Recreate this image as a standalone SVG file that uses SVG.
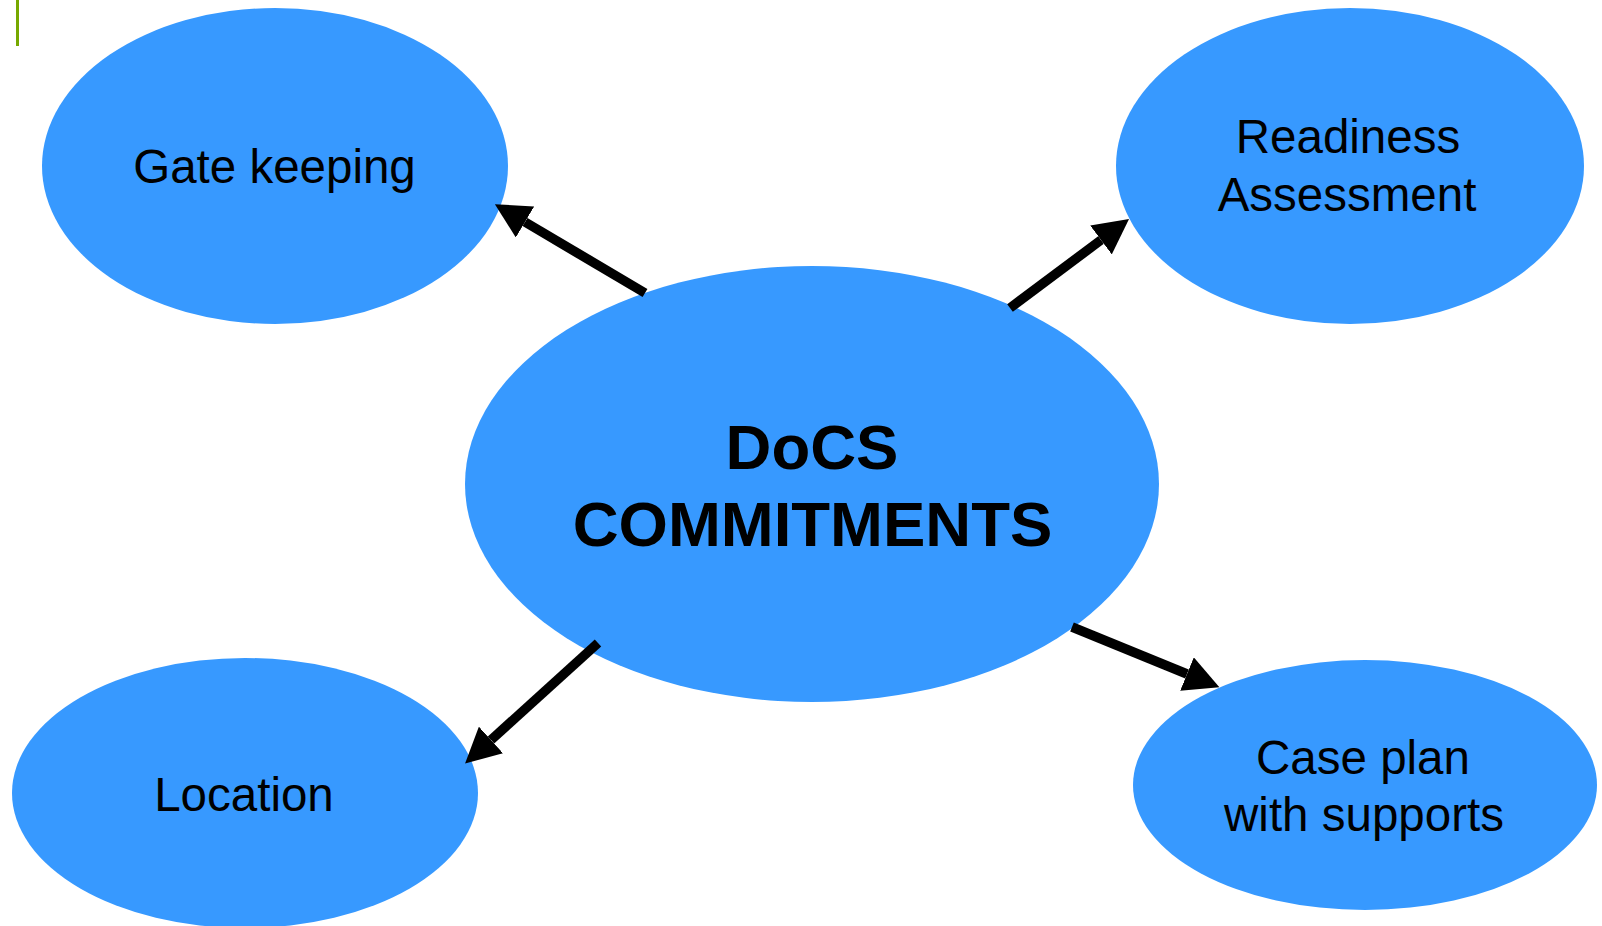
<svg xmlns="http://www.w3.org/2000/svg" width="1602" height="926" viewBox="0 0 1602 926">
<style>
.node{fill:#3799FF;}
.lbl{font-family:"Liberation Sans",Arial,sans-serif;font-size:47.5px;fill:#000;text-anchor:middle;}
.big{font-family:"Liberation Sans",Arial,sans-serif;font-size:63.5px;font-weight:bold;fill:#000;text-anchor:middle;}
.conn{stroke:#000;stroke-width:9.5;fill:none;marker-end:url(#ah);}
</style>
<defs>
<marker id="ah" markerUnits="userSpaceOnUse" viewBox="0 0 35 36" refX="0" refY="18" markerWidth="35" markerHeight="36" orient="auto">
<path d="M0,0 L35,18 L0,36 z" fill="#000"/>
</marker>
</defs>
<rect x="16" y="0" width="3" height="46" fill="#76A800"/>
<g id="node-gate">
<ellipse class="node" cx="275" cy="166" rx="233" ry="158"/>
<text class="lbl" x="274.5" y="183">Gate keeping</text>
</g>
<g id="node-readiness">
<ellipse class="node" cx="1350" cy="166" rx="234" ry="158"/>
<text class="lbl" x="1348" y="153">Readiness</text>
<text class="lbl" x="1347" y="211">Assessment</text>
</g>
<g id="node-location">
<ellipse class="node" cx="245" cy="793" rx="233" ry="135"/>
<text class="lbl" x="244" y="811">Location</text>
</g>
<g id="node-caseplan">
<ellipse class="node" cx="1365" cy="785" rx="232" ry="125"/>
<text class="lbl" x="1363" y="774">Case plan</text>
<text class="lbl" x="1364" y="831">with supports</text>
</g>
<g id="node-center">
<ellipse class="node" cx="812" cy="484" rx="347" ry="218"/>
<text class="big" x="812" y="469">DoCS</text>
<text class="big" x="812.5" y="546">COMMITMENTS</text>
</g>
<g id="connectors">
<line class="conn" x1="645" y1="293" x2="525" y2="222"/>
<line class="conn" x1="1010" y1="308" x2="1101" y2="240"/>
<line class="conn" x1="1072" y1="627" x2="1187" y2="674"/>
<line class="conn" x1="598" y1="643" x2="491" y2="740"/>
</g>
</svg>
